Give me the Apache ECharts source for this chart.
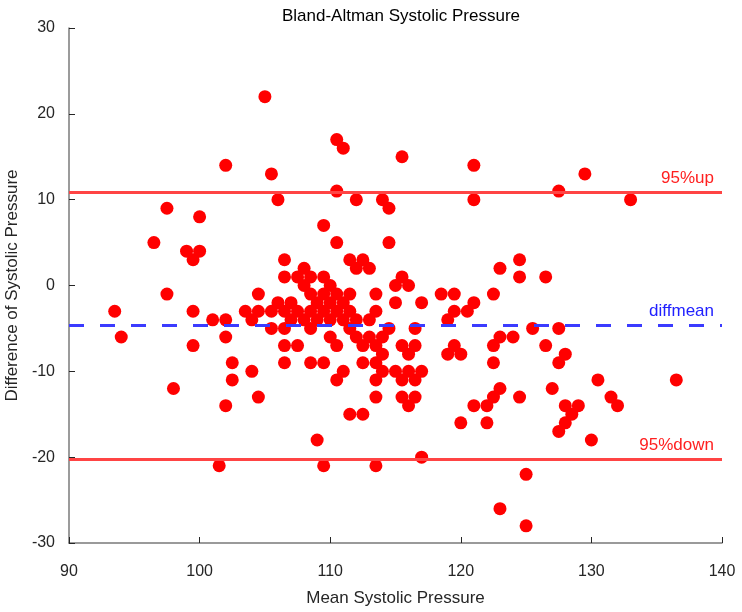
<!DOCTYPE html>
<html>
<head>
<meta charset="utf-8">
<script src="https://cdn.jsdelivr.net/npm/echarts@6/dist/echarts.min.js"></script>
<style>
  html, body { margin: 0; padding: 0; background: #fff; }
  #chart { width: 742px; height: 612px; }
</style>
</head>
<body>
<div id="chart"></div>
<script>
// mean of the two readings
var meanValues = [93.5, 94, 96.5, 97.5, 97.5, 98, 99, 99.5, 100, 100, 99.5, 99.5, 101, 101.5, 102, 102, 102, 102,
  102.5, 102.5, 103.5, 104, 104, 104.5, 104.5, 104.5, 105, 105.5, 105.5, 105.5, 106, 106, 106.5, 106.5, 106.5,
  106.5, 106.5, 106.5, 107, 107, 107.5, 107.5, 107.5, 108, 108, 108, 108.5, 108.5, 108.5, 108.5, 108.5, 109, 109,
  109, 109.5, 109.5, 109.5, 109.5, 109.5, 109.5, 110, 110, 110, 110, 110.5, 110.5, 110.5, 110.5, 110.5, 110.5,
  110.5, 111, 111, 111, 111, 111.5, 111.5, 111.5, 111.5, 111.5, 112, 112, 112, 112, 112.5, 112.5, 112.5, 112.5,
  113, 113, 113, 113.5, 113.5, 113.5, 113.5, 113.5, 113.5, 113.5, 114, 114, 114, 114, 114.5, 114.5, 114.5, 115,
  115, 115, 115.5, 115.5, 115.5, 115.5, 115.5, 116, 116, 116, 116, 116.5, 116.5, 116.5, 116.5, 117, 117, 117,
  118.5, 119, 119, 119.5, 119.5, 119.5, 120, 120, 120.5, 121, 121, 121, 121, 122, 122, 122.5, 122.5, 122.5,
  122.5, 123, 123, 123, 123, 124, 124.5, 124.5, 124.5, 125, 125, 125.5, 126.5, 126.5, 127, 127.5, 127.5, 127.5,
  127.5, 128, 128, 128, 128.5, 129, 129.5, 130, 130.5, 131.5, 132, 133, 136.5];

// difference of the two readings
var diffValues = [-3, -6, 5, 9, -1, -12, 4, 3, 4, 8, -3, -7, -4, -21, 14, -4, -6, -14,
  -9, -11, -3, -4, -10, -1, -3, -13, 22, 13, -3, -5, 10, -2, 3, 1, -3,
  -5, -7, -9, -2, -4, 1, -3, -7, 2, 0, -4, 1, -1, -3, -5, -9, -2, -4,
  -18, 7, 1, -1, -3, -9, -21, 0, -2, -4, -6, 17, 11, 5, -1, -3, -7,
  -11, 16, -2, -4, -10, 3, -1, -3, -5, -15, 10, 2, -4, -6, 3, -7, -9, -15,
  2, -4, -6, -1, -3, -7, -9, -11, -13, -21, 10, -6, -8, -10, 9, 5, -5, 0,
  -2, -10, 15, 1, -7, -11, -13, 0, -8, -10, -14, -5, -7, -11, -13, -2, -10, -20,
  -1, -4, -8, -1, -3, -7, -8, -16, -3, 14, 10, -2, -14, -14, -16, -1, -7, -9,
  -13, 2, -6, -12, -26, -6, 3, 1, -13, -22, -28, -5, 1, -7, -12, 11, -5, -9,
  -17, -8, -14, -16, -15, -14, 13, -18, -11, -13, -14, 10, -11];

var xRange = [90, 140];
var xTicks = 10;
var yRange = [-30, 30];
var yTicks = 10;

// limits of agreement
var upperLimit = 10.9;
var diffMean = -4.63;
var lowerLimit = -20.2;
var limitNames = ['95%up', 'diffmean', '95%down'];

var points = meanValues.map(function (m, i) { return [m, diffValues[i]]; });

var font = 'Liberation Sans, Arial, sans-serif';

// horizontal limit line drawn by markLine, label above its right end
function limitSeries(name, y, color, textColor, dash) {
  return {
    name: name,
    type: 'line',
    data: [],
    z: 3,
    silent: true,
    markLine: {
      symbol: 'none',
      silent: true,
      lineStyle: { color: color, width: 3, type: dash || 'solid' },
      data: [{ yAxis: y }],
      label: {
        show: true,
        position: 'insideEndTop',
        formatter: name,
        distance: [8, 5],
        fontFamily: font,
        fontSize: 17,
        color: textColor
      }
    }
  };
}

var chart = echarts.init(document.getElementById('chart'));

var option = {
  animation: false,
  backgroundColor: '#fff',
  title: {
    text: 'Bland-Altman Systolic Pressure',
    left: 396,
    textAlign: 'center',
    top: 3,
    textStyle: { fontFamily: font, fontSize: 17, fontWeight: 'normal', color: '#000' }
  },
  grid: { left: 69, right: 20, top: 28, bottom: 69, containLabel: false, outerBoundsMode: 'none' },
  xAxis: {
    type: 'value',
    min: xRange[0],
    max: xRange[1],
    interval: xTicks,
    name: 'Mean Systolic Pressure',
    nameLocation: 'middle',
    nameGap: 47,
    nameTextStyle: { fontFamily: font, fontSize: 17, color: '#262626' },
    axisLine: { onZero: false, lineStyle: { color: '#7a7a7a', width: 1.5 } },
    axisTick: { inside: true, length: 6, lineStyle: { color: '#262626' } },
    axisLabel: { fontFamily: font, fontSize: 16, color: '#262626', margin: 21 },
    splitLine: { show: false }
  },
  yAxis: {
    type: 'value',
    min: yRange[0],
    max: yRange[1],
    interval: yTicks,
    name: 'Difference of Systolic Pressure',
    nameLocation: 'middle',
    nameGap: 47,
    nameTextStyle: { fontFamily: font, fontSize: 17, color: '#262626' },
    axisLine: { onZero: false, lineStyle: { color: '#7a7a7a', width: 1.5 } },
    axisTick: { inside: true, length: 6, lineStyle: { color: '#262626' } },
    axisLabel: { fontFamily: font, fontSize: 16, color: '#262626', margin: 14 },
    splitLine: { show: false }
  },
  series: [
    {
      type: 'scatter',
      data: points,
      symbol: 'circle',
      symbolSize: 13,
      itemStyle: { color: '#ff0000', opacity: 1 },
      z: 2
    },
    limitSeries(limitNames[0], upperLimit, '#ff4444', '#ff2020'),
    limitSeries(limitNames[1], diffMean, '#3b3bff', '#2020ff', [15, 16]),
    limitSeries(limitNames[2], lowerLimit, '#ff4444', '#ff2020')
  ]
};

chart.setOption(option);
</script>
</body>
</html>
